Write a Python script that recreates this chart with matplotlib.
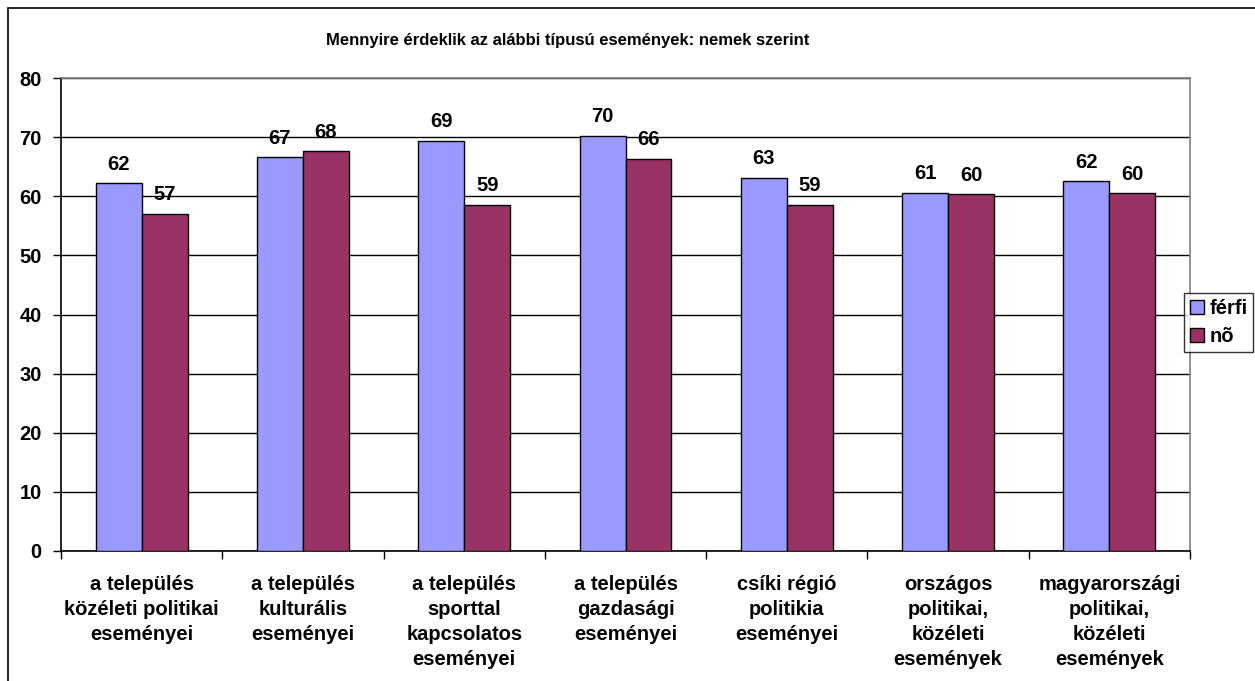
import numpy as np
import matplotlib
matplotlib.use("Agg")
import matplotlib.pyplot as plt
from matplotlib.patches import Rectangle, Patch

plt.rcParams["font.family"] = ["Liberation Sans", "DejaVu Sans"]
plt.rcParams["font.weight"] = "bold"

title = "Mennyire érdeklik az alábbi típusú események: nemek szerint"
categories = [
    "a település\nközéleti politikai\neseményei",
    "a település\nkulturális\neseményei",
    "a település\nsporttal\nkapcsolatos\neseményei",
    "a település\ngazdasági\neseményei",
    "csíki régió\npolitikia\neseményei",
    "országos\npolitikai,\nközéleti\nesemények",
    "magyarországi\npolitikai,\nközéleti\nesemények",
]
ferfi = [62.2, 66.6, 69.4, 70.2, 63.1, 60.6, 62.5]
no = [57.0, 67.6, 58.6, 66.3, 58.6, 60.3, 60.5]
series_names = ["férfi", "nõ"]
colors = ["#9999FF", "#993366"]
yticks = [0, 10, 20, 30, 40, 50, 60, 70, 80]

W, H = 1255, 681
FS = 14.5
fig = plt.figure(figsize=(W / 100, H / 100), dpi=100)

# outer chart frame (only left/top visible in the crop)
fig.patches.append(Rectangle((8 / W, -0.1), 2.0, 1 - 8 / H + 0.1,
                             transform=fig.transFigure, fill=False,
                             edgecolor="black", linewidth=1.2))

ax = fig.add_axes([61 / W, (H - 551) / H, (1190 - 61) / W, (551 - 78) / H])

x = np.arange(len(categories))
bw = 0.285
b1 = ax.bar(x - bw / 2, ferfi, bw, color=colors[0], edgecolor="black", linewidth=1.0, zorder=3)
b2 = ax.bar(x + bw / 2, no, bw, color=colors[1], edgecolor="black", linewidth=1.0, zorder=3)

for bars in (b1, b2):
    for r in bars:
        v = r.get_height()
        ax.annotate(f"{int(round(v))}", (r.get_x() + r.get_width() / 2, v),
                    xytext=(0, 7), textcoords="offset points",
                    ha="center", va="bottom", fontsize=FS, fontweight="bold")

ax.set_xlim(-0.5, len(categories) - 0.5)
ax.set_ylim(0, 80)
ax.set_yticks(yticks)
ax.set_yticklabels([str(t) for t in yticks], fontsize=FS, fontweight="bold")
ax.yaxis.grid(True, color="black", linewidth=1.0, zorder=0)
ax.set_axisbelow(True)

ax.set_xticks(x)
ax.set_xticklabels(categories, fontsize=FS, fontweight="bold", linespacing=1.39)
ax.set_xticks(np.arange(len(categories) + 1) - 0.5, minor=True)
ax.tick_params(axis="x", which="major", length=0, pad=17.5)
ax.tick_params(axis="x", which="minor", length=6, width=1.0, color="black")
ax.tick_params(axis="y", length=6, width=1.0, pad=8, color="black")

for s in ("top", "right"):
    ax.spines[s].set_color("#808080")
    ax.spines[s].set_linewidth(1.2)
for s in ("left", "bottom"):
    ax.spines[s].set_color("black")
    ax.spines[s].set_linewidth(1.2)

fig.text(568 / W, 1 - 40 / H, title, ha="center", va="center",
         fontsize=12, fontweight="bold")

handles = [Patch(facecolor=c, edgecolor="black", linewidth=1.0) for c in colors]
leg = fig.legend(handles, series_names, loc="upper left",
                 bbox_to_anchor=(1184 / W, 1 - 293 / H),
                 fontsize=FS, frameon=True, fancybox=False,
                 handlelength=0.7, handleheight=0.7, handletextpad=0.25,
                 borderpad=0.3, labelspacing=0.45, borderaxespad=0)
leg.get_frame().set_edgecolor("black")
leg.get_frame().set_linewidth(1.0)
for t in leg.get_texts():
    t.set_fontweight("bold")

fig.savefig("out.png", dpi=100)
